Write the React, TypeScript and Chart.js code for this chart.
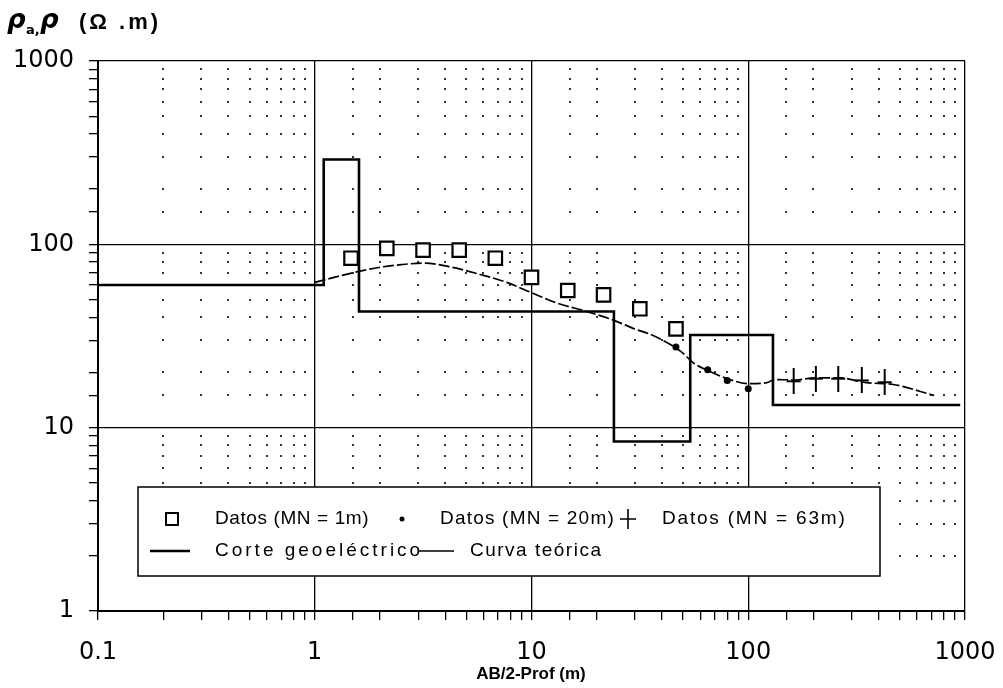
import React, { useEffect, useRef } from 'react';
import { Chart, registerables } from 'chart.js';

Chart.register(...registerables);

// ---- data ----
const xTickLabels = ['0.1', '1', '10', '100', '1000'];
const yTickLabels = ['1', '10', '100', '1000'];

const squaresX = [1.47, 2.15, 3.16, 4.64, 6.81, 10, 14.7, 21.5, 31.6, 46.4];
const squaresY = [84, 95, 93, 93, 84, 66, 56, 53, 44.5, 34.6];

const dotsX = [46.4, 65, 80, 100];
const dotsY = [27.5, 20.7, 18.1, 16.3];

const crossX = [162, 205, 260, 334, 426];
const crossY = [17.9, 18.5, 18.5, 18.1, 17.7];

const corteX = [0.1, 1.1, 1.6, 24, 54, 130, 950];
const corteY = [60, 290, 43, 8.4, 32, 13.3, 13.3];

const curvaX = [1.0, 1.5, 2.0, 2.5, 3.2, 4.3, 5.8, 7.7, 10, 13, 18, 24, 30, 36, 49, 56, 65, 80, 100, 122, 132, 165, 205, 263, 350, 466, 720];
const curvaY = [62, 70, 75, 77.5, 79, 75, 68.5, 62, 54.5, 48, 43, 38.5, 34.5, 32, 26, 22.5, 20.5, 18.5, 17.4, 17.6, 18.3, 18.2, 18.7, 18.7, 17.6, 17.2, 15];

const seriesLabels = ['Datos (MN = 1m)', 'Datos (MN = 20m)', 'Datos (MN = 63m)', 'Corte geoeléctrico', 'Curva teórica'];

const pts = (xs: number[], ys: number[]) => xs.map((x, i) => ({ x, y: ys[i] }));
const isDecade = (v: number) => Math.abs(Math.log10(v) - Math.round(Math.log10(v))) < 1e-6;

function makeCross(): HTMLCanvasElement {
  const c = document.createElement('canvas');
  c.width = 16;
  c.height = 26;
  const g = c.getContext('2d')!;
  g.strokeStyle = '#000';
  g.lineWidth = 2;
  g.beginPath();
  g.moveTo(8, 0);
  g.lineTo(8, 26);
  g.moveTo(1, 13);
  g.lineTo(15, 13);
  g.stroke();
  return c;
}

const dotGridPlugin = {
  id: 'dotGrid',
  beforeDatasetsDraw(chart: any) {
    const xs = chart.scales.x;
    const ys = chart.scales.y;
    const ctx = chart.ctx;
    ctx.save();
    ctx.fillStyle = '#333';
    for (const tx of xs.ticks) {
      if (isDecade(tx.value)) continue;
      const px = xs.getPixelForValue(tx.value);
      for (const ty of ys.ticks) {
        if (isDecade(ty.value)) continue;
        const py = ys.getPixelForValue(ty.value);
        ctx.fillRect(Math.round(px) - 1, Math.round(py) - 1, 2, 2);
      }
    }
    ctx.restore();
  },
};

const textPlugin = {
  id: 'texts',
  afterDraw(chart: any) {
    const ctx = chart.ctx;
    ctx.save();
    ctx.fillStyle = '#000';
    ctx.textBaseline = 'alphabetic';
    ctx.textAlign = 'left';
    // y-axis title: ρa, ρ (Ω .m)
    ctx.font = 'bold italic 26px "DejaVu Sans"';
    ctx.fillText('ρ', 7, 28);
    ctx.font = 'bold 13px "DejaVu Sans"';
    ctx.fillText('a,', 26, 34);
    ctx.font = 'bold italic 26px "DejaVu Sans"';
    ctx.fillText('ρ', 40, 28);
    ctx.font = 'bold 22px "Liberation Sans"';
    (ctx as any).letterSpacing = '3px';
    ctx.fillText('(Ω .m)', 79, 29);
    (ctx as any).letterSpacing = '0px';
    // x-axis title
    ctx.font = 'bold 17px "Liberation Sans"';
    ctx.textAlign = 'center';
    ctx.textBaseline = 'middle';
    ctx.fillText('AB/2-Prof (m)', 531, 674);
    ctx.restore();
  },
};

const legendPlugin = {
  id: 'boxLegend',
  afterDatasetsDraw(chart: any) {
    const ctx = chart.ctx;
    const ds = chart.data.datasets;
    ctx.save();
    const L = 138, T = 487, R = 880, B = 576;
    ctx.fillStyle = '#fff';
    ctx.fillRect(L, T, R - L, B - T);
    ctx.strokeStyle = '#000';
    ctx.lineWidth = 1.5;
    ctx.strokeRect(L, T, R - L, B - T);

    const r1 = 519, r2 = 551;
    ctx.font = '19px "Liberation Sans"';
    ctx.fillStyle = '#000';
    ctx.textBaseline = 'middle';
    ctx.textAlign = 'left';
    const txt = (s: string, x: number, y: number, ls: number) => {
      (ctx as any).letterSpacing = ls + 'px';
      ctx.fillText(s, x, y);
      (ctx as any).letterSpacing = '0px';
    };

    // square
    ctx.lineWidth = 2;
    ctx.strokeRect(166, r1 - 6, 12, 12);
    txt(ds[0].label, 215, r1, 0.6);
    // dot
    ctx.beginPath();
    ctx.arc(402, r1, 2.5, 0, Math.PI * 2);
    ctx.fill();
    txt(ds[1].label, 440, r1, 1.2);
    // cross
    ctx.lineWidth = 1.6;
    ctx.beginPath();
    ctx.moveTo(628, r1 - 10);
    ctx.lineTo(628, r1 + 10);
    ctx.moveTo(620, r1);
    ctx.lineTo(636, r1);
    ctx.stroke();
    txt(ds[2].label, 662, r1, 1.8);
    // corte line
    ctx.lineWidth = 2.5;
    ctx.beginPath();
    ctx.moveTo(150, r2);
    ctx.lineTo(190, r2);
    ctx.stroke();
    txt(ds[3].label, 215, r2, 3);
    // curva line
    ctx.lineWidth = 1.6;
    ctx.beginPath();
    ctx.moveTo(418, r2);
    ctx.lineTo(454, r2);
    ctx.stroke();
    txt(ds[4].label, 470, r2, 1.5);
    ctx.restore();
  },
};

export default function App() {
  const ref = useRef<HTMLCanvasElement>(null);

  useEffect(() => {
    document.body.style.margin = '0';
    const canvas = ref.current!;
    const cross = makeCross();
    const tickFont = { family: '"DejaVu Sans"', size: 24 };

    const chart = new Chart(canvas, {
      type: 'scatter',
      data: {
        datasets: [
          {
            label: seriesLabels[0],
            data: pts(squaresX, squaresY),
            pointStyle: 'rect',
            pointRadius: 9.5,
            pointBorderWidth: 2.2,
            pointBackgroundColor: '#fff',
            pointBorderColor: '#000',
            showLine: false,
          },
          {
            label: seriesLabels[1],
            data: pts(dotsX, dotsY),
            pointStyle: 'circle',
            pointRadius: 3.5,
            pointBackgroundColor: '#000',
            pointBorderColor: '#000',
            pointBorderWidth: 0,
            showLine: false,
          },
          {
            label: seriesLabels[2],
            data: pts(crossX, crossY),
            pointStyle: cross as any,
            pointRadius: 8,
            showLine: false,
          },
          {
            label: seriesLabels[3],
            type: 'line',
            data: pts(corteX, corteY),
            stepped: 'before',
            borderColor: '#000',
            borderWidth: 2.6,
            pointRadius: 0,
            fill: false,
          },
          {
            label: seriesLabels[4],
            type: 'line',
            data: pts(curvaX, curvaY),
            borderColor: '#000',
            borderWidth: 1.7,
            borderDash: [11, 3],
            cubicInterpolationMode: 'monotone',
            pointRadius: 0,
            fill: false,
          },
        ] as any,
      },
      options: {
        animation: false,
        responsive: false,
        devicePixelRatio: 1,
        layout: { padding: { left: 0, right: 38, top: 61, bottom: 0 } },
        plugins: {
          legend: { display: false },
          tooltip: { enabled: false },
          title: { display: false },
        },
        scales: {
          x: {
            type: 'logarithmic',
            min: 0.1,
            max: 1000,
            afterFit: (s: any) => {
              s.height = 77;
              s.paddingLeft = 0;
              s.paddingRight = 0;
            },
            ticks: {
              autoSkip: false,
              maxRotation: 0,
              minRotation: 0,
              color: '#000',
              font: tickFont,
              padding: 18,
              callback: (v: any) => {
                const n = Number(v);
                if (!isDecade(n)) return '';
                return xTickLabels[Math.round(Math.log10(n)) + 1];
              },
            },
            grid: {
              color: (c: any) => (c.tick && isDecade(c.tick.value) ? '#000' : 'rgba(0,0,0,0)'),
              tickColor: '#000',
              tickLength: 9,
              lineWidth: 1.3,
              drawTicks: true,
            },
            border: { display: true, color: '#000', width: 2 },
          },
          y: {
            type: 'logarithmic',
            min: 1,
            max: 1000,
            afterFit: (s: any) => {
              s.width = 98;
              s.paddingTop = 0;
              s.paddingBottom = 0;
            },
            ticks: {
              autoSkip: false,
              color: '#000',
              font: tickFont,
              padding: 15,
              callback: (v: any) => {
                const n = Number(v);
                if (!isDecade(n)) return '';
                return yTickLabels[Math.round(Math.log10(n))];
              },
            },
            grid: {
              color: (c: any) => (c.tick && isDecade(c.tick.value) ? '#000' : 'rgba(0,0,0,0)'),
              tickColor: '#000',
              tickLength: 9,
              lineWidth: 1.3,
              drawTicks: true,
            },
            border: { display: true, color: '#000', width: 2 },
          },
        },
      } as any,
      plugins: [dotGridPlugin, legendPlugin, textPlugin],
    });

    return () => chart.destroy();
  }, []);

  return (
    <canvas
      ref={ref}
      width={1003}
      height={688}
      style={{ display: 'block', width: '1003px', height: '688px' }}
    />
  );
}
